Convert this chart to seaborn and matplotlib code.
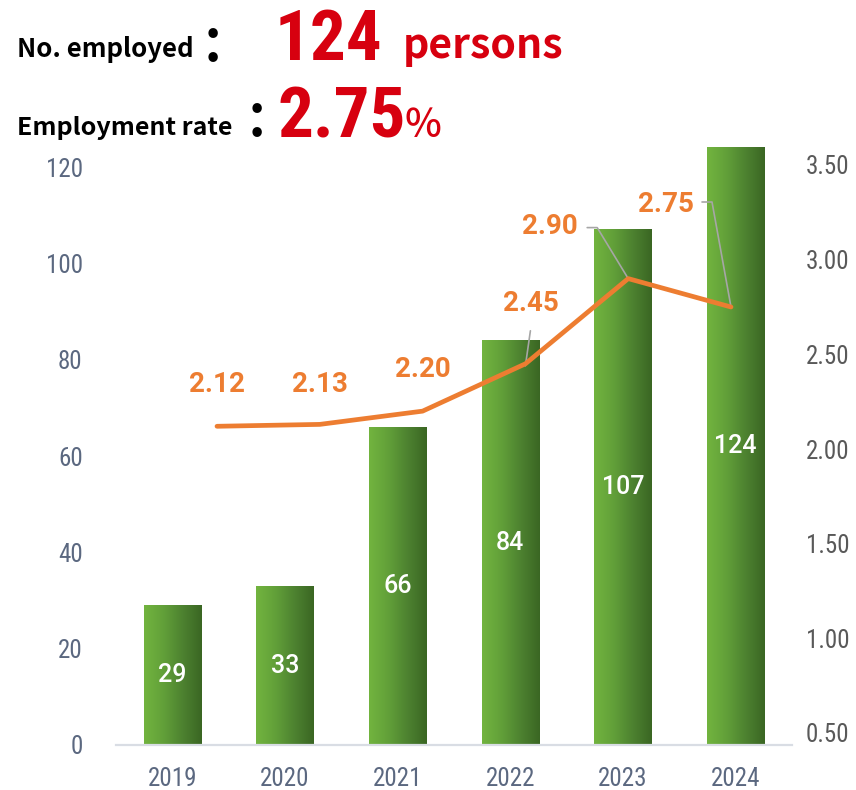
import numpy as np
import pandas as pd
import matplotlib
matplotlib.use("Agg")
import matplotlib.pyplot as plt
import seaborn as sns
from matplotlib import font_manager
from matplotlib.colors import LinearSegmentedColormap

# ---- data -------------------------------------------------------------
years = ["2019", "2020", "2021", "2022", "2023", "2024"]
employed = [29, 33, 66, 84, 107, 124]          # persons
rate = [2.12, 2.13, 2.20, 2.45, 2.90, 2.75]    # employment rate, %
left_ticks = [0, 20, 40, 60, 80, 100, 120]
right_ticks = [0.50, 1.00, 1.50, 2.00, 2.50, 3.00, 3.50]

# ---- fonts -------------------------------------------------------------
sns.set_theme(style="white")
installed = {f.name for f in font_manager.fontManager.ttflist}


def pick(*names):
    for n in names:
        if n in installed:
            return n
    return "DejaVu Sans"


NARROW = pick("Liberation Sans Narrow", "Roboto Condensed", "Roboto")
GOTHIC = pick("Noto Sans CJK JP", "Noto Sans")
ROBOTO = pick("Roboto", "Noto Sans")
narrow_ok = NARROW != "Roboto"
plt.rcParams["font.family"] = [ROBOTO, "DejaVu Sans"]

# ---- colours -----------------------------------------------------------
ORANGE = "#ed7d31"
RED = "#d7000f"
SLATE = "#5b6880"
GREY = "#595959"
LEADER = "#a6a6a6"
bar_cmap = LinearSegmentedColormap.from_list(
    "bar", ["#72b43f", "#62a039", "#4d8230", "#3a6623"])

W, H = 856, 790
fig = plt.figure(figsize=(W / 100, H / 100), dpi=100)


def rect(x0, y0, x1, y1):
    """pixel box (top-left origin) -> figure fraction rect"""
    return [x0 / W, 1 - y1 / H, (x1 - x0) / W, (y1 - y0) / H]


# ---- bars: number employed ---------------------------------------------
ax = fig.add_axes(rect(116, 140, 792, 745))
df = pd.DataFrame({"year": years, "employed": employed})
sns.barplot(data=df, x="year", y="employed", ax=ax, width=0.506,
            color="#5a9335", saturation=1, zorder=2)

grad = np.linspace(0, 1, 256).reshape(1, -1)
for p in ax.patches:
    x0, y0, w, h = p.get_x(), p.get_y(), p.get_width(), p.get_height()
    ax.imshow(grad, cmap=bar_cmap, extent=(x0, x0 + w, y0, y0 + h),
              aspect="auto", interpolation="bilinear", zorder=2)
    p.set_facecolor("none")
    p.set_edgecolor("none")

for i, v in enumerate(employed):
    ax.text(i, v / 2, str(v), ha="center", va="center", color="white",
            fontsize=18, fontweight="medium", family=ROBOTO, zorder=4)

ax.set_xlim(-0.5, 5.5)
ax.set_ylim(0, 125.66)
ax.set_yticks(left_ticks)
ax.set_yticklabels([str(t) for t in left_ticks])
ax.set_xlabel("")
ax.set_ylabel("")
tick_font = NARROW if narrow_ok else ROBOTO
tick_size = 18 if narrow_ok else 15
ax.tick_params(axis="y", length=0, pad=24, labelcolor=SLATE,
               labelsize=tick_size)
ax.tick_params(axis="x", length=0, pad=16, labelcolor=SLATE,
               labelsize=tick_size)
for lab in ax.get_xticklabels() + ax.get_yticklabels():
    lab.set_family(tick_font)
for s in ["top", "right", "left"]:
    ax.spines[s].set_visible(False)
ax.spines["bottom"].set_color("#d9dde4")
ax.spines["bottom"].set_linewidth(1.6)
ax.grid(False)

# ---- line: employment rate (secondary category axis) -------------------
ax2 = fig.add_axes(rect(165.6, 140, 782.4, 745))
ax2.patch.set_alpha(0)
sns.lineplot(x=np.arange(len(years)), y=rate, ax=ax2, color=ORANGE,
             linewidth=3.4, solid_capstyle="round", zorder=5)
px_per_unit = 568 / 3.0
ax2.set_xlim(-0.5, 5.5)
ax2.set_ylim(0.5 - 12 / px_per_unit, 3.5 + 25 / px_per_unit)
ax2.set_yticks(right_ticks)
ax2.set_yticklabels([f"{t:.2f}" for t in right_ticks])
ax2.yaxis.tick_right()
ax2.set_xticks([])
ax2.tick_params(axis="y", length=0, pad=17, labelcolor=GREY,
                labelsize=tick_size)
for lab in ax2.get_yticklabels():
    lab.set_family(tick_font)
for s in ax2.spines.values():
    s.set_visible(False)
ax2.grid(False)

# label offsets (pixels: right, up) and leader-line vertices
label_offsets = [(0, 42), (0, 40), (0, 42), (5, 60), (-78, 52), (-65, 103)]
leaders = {
    3: [(0, -2), (5, 33)],
    4: [(0, 0), (-31, 51), (-41, 51)],
    5: [(0, 0), (-19, 105), (-29, 105)],
}
for i, r in enumerate(rate):
    dx, dy = label_offsets[i]
    ax2.annotate(f"{r:.2f}", xy=(i, r), xytext=(dx * 0.72, dy * 0.72),
                 textcoords="offset points", ha="center", va="center",
                 color=ORANGE, fontsize=20, fontweight="bold", family=ROBOTO,
                 zorder=6)
inv = ax2.transData.inverted()
for i, verts in leaders.items():
    px, py = ax2.transData.transform((i, rate[i]))
    pts = inv.transform([(px + vx, py + vy) for vx, vy in verts])
    ax2.plot(pts[:, 0], pts[:, 1], color=LEADER, linewidth=1.2,
             zorder=4, clip_on=False)

# ---- headline -----------------------------------------------------------
def ftext(x, y, s, **kw):
    fig.text(x / W, 1 - y / H, s, va="baseline", ha="left", **kw)


big_font = NARROW if narrow_ok else ROBOTO
big_size = 51 if narrow_ok else 40
ftext(17, 57, "No. employed", fontsize=18.5, fontweight="bold",
      color="black", family=GOTHIC)
ftext(204, 61, ":", fontsize=44, fontweight="medium", color="black",
      family=GOTHIC)
ftext(275, 60, str(employed[-1]), fontsize=big_size, fontweight="bold",
      color=RED, family=big_font)
ftext(403, 58, "persons", fontsize=29.5, fontweight="bold", color=RED,
      family=GOTHIC)
ftext(17, 135, "Employment rate", fontsize=18, fontweight="bold",
      color="black", family=GOTHIC)
ftext(248, 136, ":", fontsize=44, fontweight="medium", color="black",
      family=GOTHIC)
ftext(277, 137, f"{rate[-1]:.2f}", fontsize=big_size, fontweight="bold",
      color=RED, family=big_font)
ftext(404, 137, "％", fontsize=28, fontweight="medium", color=RED,
      family=GOTHIC)

fig.savefig("out.png", dpi=100)
